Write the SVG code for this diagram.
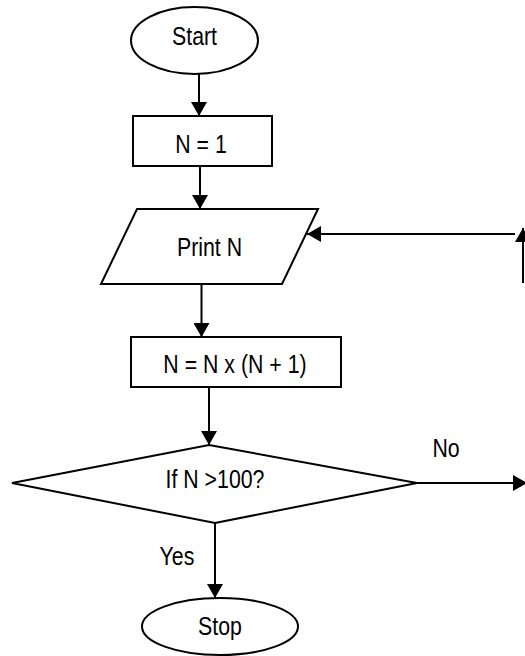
<svg xmlns="http://www.w3.org/2000/svg" width="525" height="656" viewBox="0 0 525 656">
<style>
.shape{fill:#fff;stroke:#000;stroke-width:2}
.conn{fill:none;stroke:#000;stroke-width:2}
.lbl{font-family:"Liberation Sans",Arial,sans-serif;font-size:26px;fill:#000;text-anchor:middle}
</style>
<defs>
<marker id="ah" markerUnits="userSpaceOnUse" markerWidth="16" markerHeight="16" refX="14" refY="8" orient="auto" viewBox="0 0 16 16">
<path d="M0,0 L14,8 L0,16 Z" fill="#000"/>
</marker>
</defs>
<rect width="525" height="656" fill="#fff"/>
<g id="connectors">
<line class="conn" x1="199" y1="74" x2="199" y2="116" marker-end="url(#ah)"/>
<line class="conn" x1="200" y1="166" x2="200" y2="209" marker-end="url(#ah)"/>
<line class="conn" x1="201.5" y1="284" x2="201.5" y2="337" marker-end="url(#ah)"/>
<line class="conn" x1="209" y1="387" x2="209" y2="445" marker-end="url(#ah)"/>
<line class="conn" x1="215" y1="523" x2="215" y2="598" marker-end="url(#ah)"/>
<line class="conn" x1="417" y1="483" x2="527" y2="483" marker-end="url(#ah)"/>
<line class="conn" x1="515" y1="234" x2="307" y2="234" marker-end="url(#ah)"/>
<line class="conn" x1="523" y1="283" x2="523" y2="228" marker-end="url(#ah)" stroke-width="1.5"/>
</g>
<g id="start">
<ellipse class="shape" cx="194.5" cy="40.5" rx="63.5" ry="33.5"/>
<text class="lbl" transform="translate(194.5,44.5) scale(0.82,1)">Start</text>
</g>
<g id="init">
<rect class="shape" x="133" y="116" width="139" height="50"/>
<text class="lbl" transform="translate(201,153) scale(0.82,1)">N = 1</text>
</g>
<g id="print">
<polygon class="shape" points="137,209 318,209 282,284 101,284"/>
<text class="lbl" transform="translate(209.5,256) scale(0.82,1)">Print N</text>
</g>
<g id="update">
<rect class="shape" x="131" y="337" width="210" height="50"/>
<text class="lbl" transform="translate(235,373) scale(0.82,1)">N = N x (N + 1)</text>
</g>
<g id="decision">
<polygon class="shape" points="209,445 417,483 215,523 12,483"/>
<text class="lbl" transform="translate(215,488) scale(0.82,1)">If N &gt;100?</text>
</g>
<g id="labels">
<text class="lbl" transform="translate(446,457) scale(0.82,1)">No</text>
<text class="lbl" transform="translate(177,565) scale(0.82,1)">Yes</text>
</g>
<g id="stop">
<ellipse class="shape" cx="220" cy="626.5" rx="78" ry="28.5"/>
<text class="lbl" transform="translate(220,635) scale(0.82,1)">Stop</text>
</g>
</svg>
